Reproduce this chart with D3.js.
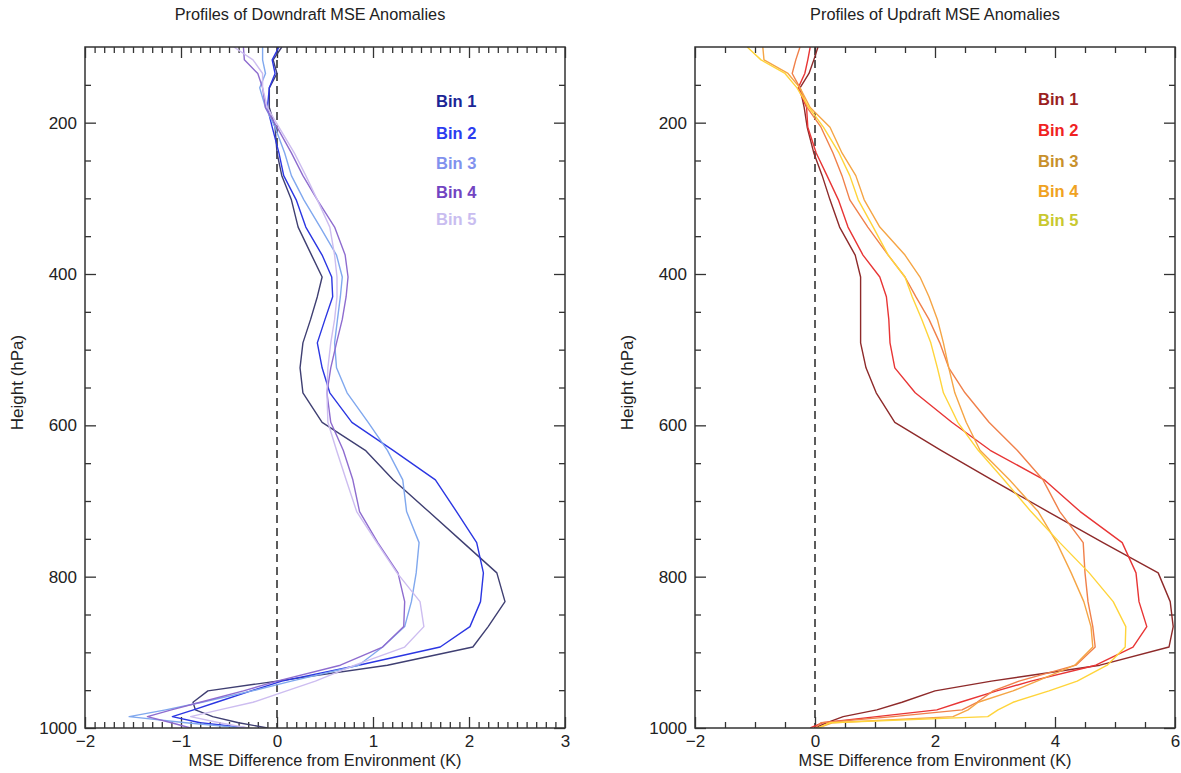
<!DOCTYPE html>
<html>
<head>
<meta charset="utf-8">
<script src="https://cdn.jsdelivr.net/npm/d3@7"></script>
<style>
  body { margin: 0; background: #fff; }
  svg { display: block; }
  text { font-family: "Liberation Sans", Arial, Helvetica, sans-serif; }
</style>
</head>
<body>
<svg id="chart" width="1181" height="773"></svg>
<script>
// Pressure levels (hPa) shared by every profile
const pressureLevels = [100, 117, 135, 154, 180, 206, 240, 270, 302, 338, 375, 404, 430, 460, 491, 524, 557, 596, 633, 672, 714, 755, 795, 833, 866, 893, 917, 938, 951, 966, 976, 985, 993, 1000];

const binNames = ["Bin 1", "Bin 2", "Bin 3", "Bin 4", "Bin 5"];

// Downdraft MSE anomalies (K) per bin
const downBin1 = [0.05, -0.04, 0.0, -0.08, -0.08, -0.02, 0.0, 0.05, 0.15, 0.22, 0.36, 0.47, 0.42, 0.35, 0.27, 0.24, 0.27, 0.47, 0.92, 1.21, 1.58, 1.94, 2.29, 2.375, 2.2, 2.04, 1.15, 0.0, -0.72, -0.875, -0.85, -0.67, -0.4, -0.1];
const downBin2 = [0.02, -0.05, -0.02, -0.08, -0.1, -0.05, 0.02, 0.07, 0.2, 0.3, 0.47, 0.57, 0.58, 0.5, 0.42, 0.47, 0.55, 0.78, 1.21, 1.65, 1.87, 2.08, 2.15, 2.12, 2.01, 1.7, 0.85, 0.05, -0.27, -0.63, -0.87, -1.09, -0.8, -0.3];
const downBin3 = [-0.15, -0.15, -0.12, -0.18, -0.12, -0.02, 0.08, 0.15, 0.28, 0.45, 0.62, 0.68, 0.66, 0.63, 0.6, 0.62, 0.73, 0.95, 1.15, 1.31, 1.35, 1.48, 1.45, 1.4, 1.33, 1.1, 0.85, 0.15, -0.26, -0.78, -1.16, -1.54, -0.95, -0.35];
const downBin4 = [-0.35, -0.34, -0.2, -0.15, -0.12, 0.0, 0.15, 0.27, 0.42, 0.6, 0.71, 0.74, 0.72, 0.68, 0.62, 0.56, 0.52, 0.56, 0.69, 0.79, 0.86, 1.05, 1.26, 1.33, 1.32, 1.1, 0.66, 0.0, -0.35, -0.8, -1.1, -1.35, -1.1, -0.9];
const downBin5 = [-0.45, -0.25, -0.15, -0.15, -0.1, 0.02, 0.18, 0.3, 0.42, 0.55, 0.6, 0.625, 0.625, 0.6, 0.56, 0.53, 0.52, 0.53, 0.62, 0.72, 0.83, 1.04, 1.25, 1.49, 1.53, 1.33, 0.81, 0.4, 0.1, -0.25, -0.6, -0.9, -0.6, -0.3];

// Updraft MSE anomalies (K) per bin
const upBin1 = [0.05, -0.02, -0.1, -0.25, -0.18, -0.13, -0.02, 0.12, 0.25, 0.41, 0.67, 0.76, 0.76, 0.76, 0.76, 0.85, 1.02, 1.33, 2.1, 2.95, 3.88, 4.8, 5.72, 5.92, 5.97, 5.9, 4.75, 2.94, 2.0, 1.45, 1.03, 0.47, 0.2, 0.0];
const upBin2 = [-0.08, -0.12, -0.17, -0.28, -0.14, -0.12, 0.02, 0.2, 0.39, 0.55, 0.8, 1.08, 1.19, 1.23, 1.25, 1.33, 1.67, 2.28, 2.92, 3.82, 4.42, 5.12, 5.35, 5.4, 5.53, 5.3, 4.68, 3.6, 3.03, 2.42, 2.03, 1.03, 0.13, -0.08];
const upBin3 = [-0.25, -0.32, -0.38, -0.25, -0.13, 0.1, 0.3, 0.45, 0.58, 0.88, 1.22, 1.5, 1.68, 1.9, 2.08, 2.23, 2.5, 2.9, 3.37, 3.8, 4.08, 4.47, 4.5, 4.55, 4.63, 4.67, 4.35, 3.4, 2.97, 2.7, 2.45, 1.3, 0.1, 0.0];
const upBin4 = [-0.87, -0.85, -0.45, -0.25, -0.08, 0.25, 0.45, 0.68, 0.82, 1.08, 1.5, 1.75, 1.9, 2.04, 2.14, 2.23, 2.33, 2.52, 2.75, 3.24, 3.72, 4.03, 4.27, 4.48, 4.6, 4.63, 4.33, 3.7, 3.3, 2.72, 2.55, 2.3, 0.3, 0.05];
const upBin5 = [-1.13, -0.9, -0.5, -0.3, -0.1, 0.14, 0.4, 0.58, 0.72, 0.97, 1.22, 1.5, 1.62, 1.78, 1.93, 2.04, 2.14, 2.38, 2.72, 3.15, 3.6, 4.08, 4.57, 4.97, 5.18, 5.17, 4.87, 4.37, 3.9, 3.3, 3.05, 2.88, 0.25, 0.05];

// Axis ticks
const pressureMajorTicks = [200, 400, 600, 800, 1000];
const downXMajorTicks = [-2, -1, 0, 1, 2, 3];
const upXMajorTicks = [-2, 0, 2, 4, 6];

const svg = d3.select("#chart");
const plotTop = 47, plotBottom = 728, plotWidth = 480;
const axisColor = "#333";

const panels = [
  {
    id: "down",
    title: "Profiles of Downdraft MSE Anomalies",
    titleX: 310,
    left: 85,
    xDomain: [-2, 3],
    majorTicks: downXMajorTicks,
    minorStep: 0.1,
    series: [downBin1, downBin2, downBin3, downBin4, downBin5],
    lineColors: ["#3f3f72", "#2b36e2", "#80a8ee", "#8e6ccf", "#cdbdf0"],
    legendColors: ["#1b2596", "#2b3cf0", "#8191ee", "#7244c2", "#c9bdf0"],
    legendX: 436,
    legendY: [107, 139, 169, 198, 225],
    yLabelX: 17
  },
  {
    id: "up",
    title: "Profiles of Updraft MSE Anomalies",
    titleX: 935,
    left: 695,
    xDomain: [-2, 6],
    majorTicks: upXMajorTicks,
    minorStep: 0.5,
    series: [upBin1, upBin2, upBin3, upBin4, upBin5],
    lineColors: ["#8e2a2a", "#e83535", "#f0804a", "#f5a545", "#ffd43a"],
    legendColors: ["#9b1f1f", "#f02222", "#c8902c", "#f0a222", "#c9c830"],
    legendX: 1038,
    legendY: [105, 136, 167, 197, 226],
    yLabelX: 627
  }
];

const y = d3.scaleLinear().domain([100, 1000]).range([plotTop, plotBottom]);

panels.forEach(p => {
  const x = d3.scaleLinear().domain(p.xDomain).range([p.left, p.left + plotWidth]);
  const g = svg.append("g").attr("class", "panel-" + p.id);

  // clip region for the profiles
  svg.append("clipPath").attr("id", "clip-" + p.id)
    .append("rect").attr("x", p.left).attr("y", plotTop)
    .attr("width", plotWidth).attr("height", plotBottom - plotTop);

  const minorX = d3.range(p.xDomain[0], p.xDomain[1] + 1e-9, p.minorStep)
    .map(v => +v.toFixed(3))
    .filter(v => !p.majorTicks.some(m => Math.abs(m - v) < 1e-6));
  const minorY = d3.range(150, 1000, 50).filter(v => !pressureMajorTicks.includes(v));

  const styleAxis = sel => {
    sel.select(".domain").remove();
    sel.selectAll(".tick line").attr("stroke", axisColor).attr("stroke-width", 1.3);
    sel.selectAll(".tick text").attr("fill", "#222").style("font-size", "17px");
  };

  // bottom axis: labelled majors + minor ticks, all pointing inward
  g.append("g").attr("transform", `translate(0,${plotBottom})`)
    .call(d3.axisBottom(x).tickValues(p.majorTicks).tickSize(-11).tickPadding(7).tickFormat(d3.format("d")))
    .call(styleAxis);
  g.append("g").attr("transform", `translate(0,${plotBottom})`)
    .call(d3.axisBottom(x).tickValues(minorX).tickSize(-6).tickFormat(""))
    .call(styleAxis);
  // top axis ticks
  g.append("g").attr("transform", `translate(0,${plotTop})`)
    .call(d3.axisTop(x).tickValues(p.majorTicks).tickSize(-11).tickFormat(""))
    .call(styleAxis);
  g.append("g").attr("transform", `translate(0,${plotTop})`)
    .call(d3.axisTop(x).tickValues(minorX).tickSize(-6).tickFormat(""))
    .call(styleAxis);
  // left axis with pressure labels
  g.append("g").attr("transform", `translate(${p.left},0)`)
    .call(d3.axisLeft(y).tickValues(pressureMajorTicks).tickSize(-11).tickPadding(8).tickFormat(d3.format("d")))
    .call(styleAxis);
  g.append("g").attr("transform", `translate(${p.left},0)`)
    .call(d3.axisLeft(y).tickValues(minorY).tickSize(-6).tickFormat(""))
    .call(styleAxis);
  // right axis ticks
  g.append("g").attr("transform", `translate(${p.left + plotWidth},0)`)
    .call(d3.axisRight(y).tickValues(pressureMajorTicks).tickSize(-11).tickFormat(""))
    .call(styleAxis);
  g.append("g").attr("transform", `translate(${p.left + plotWidth},0)`)
    .call(d3.axisRight(y).tickValues(minorY).tickSize(-6).tickFormat(""))
    .call(styleAxis);

  // zero reference line
  g.append("line")
    .attr("x1", x(0)).attr("x2", x(0))
    .attr("y1", plotTop).attr("y2", plotBottom)
    .attr("stroke", "#333").attr("stroke-width", 1.6)
    .attr("stroke-dasharray", "8,5");

  // profiles
  const line = d3.line()
    .x(d => x(d.v))
    .y(d => y(d.p));
  const lines = g.append("g").attr("clip-path", `url(#clip-${p.id})`);
  p.series.forEach((vals, i) => {
    const pts = pressureLevels.map((lev, k) => ({ p: lev, v: vals[k] }));
    lines.append("path")
      .datum(pts)
      .attr("d", line)
      .attr("fill", "none")
      .attr("stroke", p.lineColors[i])
      .attr("stroke-width", 1.4)
      .attr("stroke-linejoin", "round");
  });

  // frame
  g.append("rect")
    .attr("x", p.left).attr("y", plotTop)
    .attr("width", plotWidth).attr("height", plotBottom - plotTop)
    .attr("fill", "none").attr("stroke", axisColor).attr("stroke-width", 1.5);

  // legend
  binNames.forEach((name, i) => {
    g.append("text")
      .attr("x", p.legendX).attr("y", p.legendY[i])
      .attr("fill", p.legendColors[i])
      .style("font-size", "16.5px").style("font-weight", "bold")
      .text(name);
  });

  // titles and axis labels
  g.append("text")
    .attr("x", p.titleX).attr("y", 20)
    .attr("text-anchor", "middle")
    .attr("fill", "#222").style("font-size", "16.3px")
    .text(p.title);
  g.append("text")
    .attr("x", p.left + plotWidth / 2).attr("y", 766)
    .attr("text-anchor", "middle")
    .attr("fill", "#222").style("font-size", "16.3px")
    .text("MSE Difference from Environment (K)");
  g.append("text")
    .attr("transform", `translate(${p.yLabelX},${(plotTop + plotBottom) / 2 - 5}) rotate(-90)`)
    .attr("text-anchor", "middle")
    .attr("dy", "0.35em")
    .attr("fill", "#222").style("font-size", "17px")
    .text("Height (hPa)");
});
</script>
</body>
</html>
